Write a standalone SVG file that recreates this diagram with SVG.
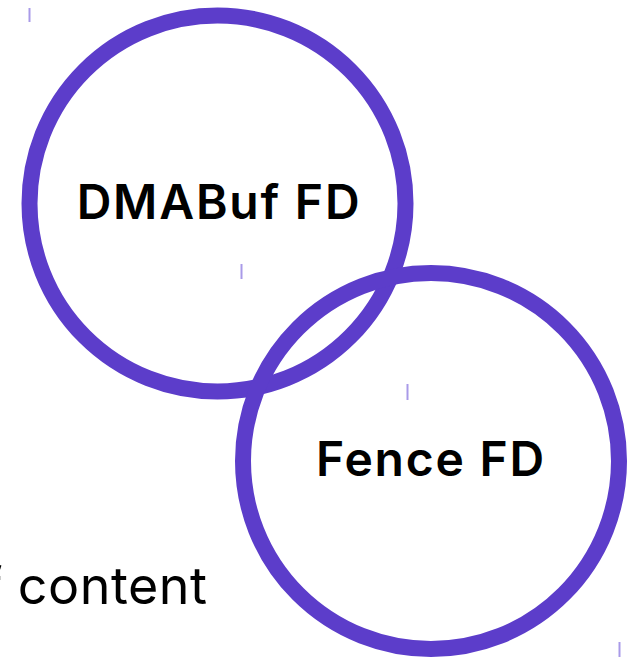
<svg xmlns="http://www.w3.org/2000/svg" width="636" height="658" viewBox="0 0 636 658">
  <style>
    .ring { fill: none; stroke: #5c3dca; stroke-width: 16; }
    .label { font-family: Inter, "Noto Sans", "Liberation Sans", sans-serif; font-weight: 600; font-size: 48px; letter-spacing: 1.8px; fill: #000; text-anchor: middle; }
    .body { font-family: Inter, "Noto Sans", "Liberation Sans", sans-serif; font-weight: 400; font-size: 52px; letter-spacing: 0.5px; fill: #000; }
    .tick { stroke: #a99ae8; stroke-width: 2; }
  </style>
  <rect width="636" height="658" fill="#fff"/>

  <!-- stray markers -->
  <g id="ticks">
    <line class="tick" x1="29.5" y1="8" x2="29.5" y2="22"/>
    <line class="tick" x1="241.5" y1="264" x2="241.5" y2="279"/>
    <line class="tick" x1="407.5" y1="384" x2="407.5" y2="400" stroke="#7d6be0"/>
    <line class="tick" x1="619.5" y1="642" x2="619.5" y2="657"/>
  </g>

  <text class="body" x="-17" y="604">f content</text>

  <g id="connectors"></g>

  <g id="dmabuf">
    <circle class="ring" cx="217.5" cy="203.5" r="188"/>
    <text class="label" x="219" y="219">DMABuf FD</text>
  </g>

  <g id="fence">
    <circle class="ring" cx="431" cy="461" r="188"/>
    <text class="label" x="431" y="476">Fence FD</text>
  </g>
</svg>
